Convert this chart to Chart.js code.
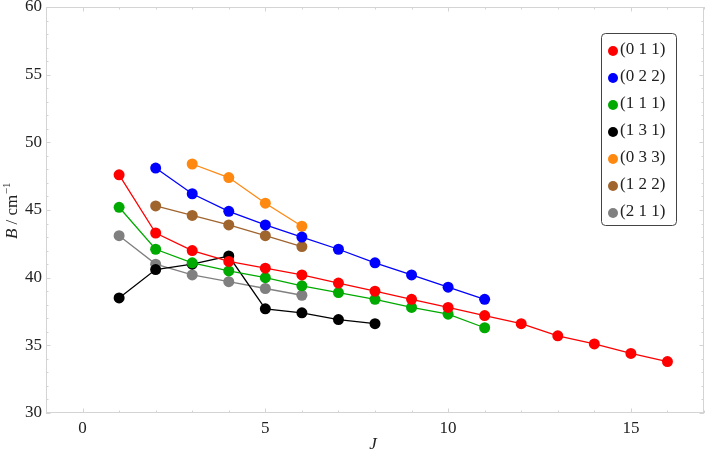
<!DOCTYPE html>
<html>
<head>
<meta charset="utf-8">
<script src="https://cdn.jsdelivr.net/npm/chart.js@4"></script>
<style>
  html, body { margin: 0; padding: 0; background: #fff; }
  #wrap { width: 706px; height: 458px; position: relative; }
</style>
</head>
<body>
<div id="wrap"><canvas id="bChart"></canvas></div>
<script>
// J values and B (cm^-1) per band
var j011 = [1, 2, 3, 4, 5, 6, 7, 8, 9, 10, 11, 12, 13, 14, 15, 16];
var b011 = [47.6, 43.3, 42.0, 41.2, 40.7, 40.2, 39.6, 39.0, 38.4, 37.8, 37.2, 36.6, 35.7, 35.1, 34.4, 33.8];

var j022 = [2, 3, 4, 5, 6, 7, 8, 9, 10, 11];
var b022 = [48.1, 46.2, 44.9, 43.9, 43.0, 42.1, 41.1, 40.2, 39.3, 38.4];

var j111 = [1, 2, 3, 4, 5, 6, 7, 8, 9, 10, 11];
var b111 = [45.2, 42.1, 41.1, 40.5, 40.0, 39.4, 38.9, 38.4, 37.8, 37.3, 36.3];

var j131 = [1, 2, 3, 4, 5, 6, 7, 8];
var b131 = [38.5, 40.6, 41.0, 41.6, 37.7, 37.4, 36.9, 36.6];

var j033 = [3, 4, 5, 6];
var b033 = [48.4, 47.4, 45.5, 43.8];

var j122 = [2, 3, 4, 5, 6];
var b122 = [45.3, 44.6, 43.9, 43.1, 42.3];

var j211 = [1, 2, 3, 4, 5, 6];
var b211 = [43.1, 41.0, 40.2, 39.7, 39.2, 38.7];

var xTicks = [0, 5, 10, 15];
var yTicks = [30, 35, 40, 45, 50, 55, 60];

var serif = '"Liberation Serif", "Times New Roman", serif';

function pts(xs, ys) {
    return xs.map(function (x, i) { return { x: x, y: ys[i] }; });
}

var bands = [
    { label: '(0 1 1)', color: '#ff0000', data: pts(j011, b011) },
    { label: '(0 2 2)', color: '#0000ff', data: pts(j022, b022) },
    { label: '(1 1 1)', color: '#00aa00', data: pts(j111, b111) },
    { label: '(1 3 1)', color: '#000000', data: pts(j131, b131) },
    { label: '(0 3 3)', color: '#ff8811', data: pts(j033, b033) },
    { label: '(1 2 2)', color: '#a0642d', data: pts(j122, b122) },
    { label: '(2 1 1)', color: '#808080', data: pts(j211, b211) }
];

var datasets = bands.map(function (b) {
    return {
        label: b.label,
        data: b.data,
        showLine: true,
        borderColor: b.color,
        backgroundColor: b.color,
        borderWidth: 1.3,
        pointRadius: 5.5,
        pointHoverRadius: 5.5,
        pointBorderWidth: 0
    };
});

// frame, inward ticks, axis titles and the boxed legend
var framePlugin = {
    id: 'frame',
    afterDraw: function (chart) {
        var ctx = chart.ctx;
        var a = chart.chartArea;
        var xs = chart.scales.x, ys = chart.scales.y;
        ctx.save();
        ctx.strokeStyle = '#d4d4d4';
        ctx.lineWidth = 1;
        ctx.strokeRect(a.left + 0.5, a.top + 0.5, a.right - a.left - 1, a.bottom - a.top - 1);

        ctx.beginPath();
        for (var v = -1; v <= 17; v++) {
            var px = Math.round(xs.getPixelForValue(v)) + 0.5;
            var len = (v % 5 === 0) ? 4.5 : 2.5;
            ctx.moveTo(px, a.bottom); ctx.lineTo(px, a.bottom - len);
            ctx.moveTo(px, a.top); ctx.lineTo(px, a.top + len);
        }
        for (var w = 30; w <= 60; w++) {
            var py = Math.round(ys.getPixelForValue(w)) + 0.5;
            var l2 = (w % 5 === 0) ? 4.5 : 2.5;
            ctx.moveTo(a.left, py); ctx.lineTo(a.left + l2, py);
            ctx.moveTo(a.right, py); ctx.lineTo(a.right - l2, py);
        }
        ctx.stroke();

        // axis titles
        ctx.fillStyle = '#222';
        ctx.textBaseline = 'alphabetic';
        ctx.font = 'italic 17px ' + serif;
        ctx.textAlign = 'center';
        ctx.fillText('J', (a.left + a.right) / 2 - 2, 449);

        ctx.save();
        ctx.translate(17, (a.top + a.bottom) / 2 + 1);
        ctx.rotate(-Math.PI / 2);
        ctx.textAlign = 'left';
        var t1 = 'B', t2 = ' / cm', t3 = '\u22121';
        ctx.font = 'italic 17px ' + serif;
        var w1 = ctx.measureText(t1).width;
        ctx.font = '17px ' + serif;
        var w2 = ctx.measureText(t2).width;
        ctx.font = '11px ' + serif;
        var w3 = ctx.measureText(t3).width;
        var x0 = -(w1 + w2 + w3) / 2;
        ctx.font = 'italic 17px ' + serif;
        ctx.fillText(t1, x0, 0);
        ctx.font = '17px ' + serif;
        ctx.fillText(t2, x0 + w1, 0);
        ctx.font = '11px ' + serif;
        ctx.fillText(t3, x0 + w1 + w2 + 0.5, -7);
        ctx.restore();

        // legend box
        var lx = 601, ly = 33, lw = 75, lh = 192;
        ctx.beginPath();
        ctx.roundRect(lx + 0.5, ly + 0.5, lw, lh, 4);
        ctx.fillStyle = '#fff';
        ctx.fill();
        ctx.strokeStyle = '#444';
        ctx.lineWidth = 1;
        ctx.stroke();
        ctx.font = '17px ' + serif;
        ctx.textAlign = 'left';
        ctx.textBaseline = 'middle';
        bands.forEach(function (b, i) {
            var cy = ly + 17 + i * 27;
            ctx.beginPath();
            ctx.arc(lx + 12, cy + 1, 5, 0, Math.PI * 2);
            ctx.fillStyle = b.color;
            ctx.fill();
            ctx.fillStyle = '#222';
            ctx.fillText(b.label, lx + 19, cy);
        });
        ctx.restore();
    }
};

var ctx = document.getElementById('bChart').getContext('2d');
var bChart = new Chart(ctx, {
    type: 'scatter',
    data: { datasets: datasets },
    options: {
        responsive: true,
        maintainAspectRatio: false,
        animation: false,
        layout: { autoPadding: false, padding: { top: 7, right: 2, left: 0, bottom: 0 } },
        plugins: {
            legend: { display: false },
            tooltip: { enabled: false }
        },
        scales: {
            x: {
                type: 'linear',
                min: -1,
                max: 17,
                afterBuildTicks: function (s) { s.ticks = xTicks.map(function (v) { return { value: v }; }); },
                afterFit: function (s) { s.height = 45; s.paddingLeft = 0; s.paddingRight = 0; },
                grid: { display: false, drawTicks: false, tickLength: 0 },
                border: { display: false },
                ticks: { color: '#222', font: { family: serif, size: 17 }, padding: 5, maxRotation: 0 }
            },
            y: {
                type: 'linear',
                min: 30,
                max: 60,
                afterBuildTicks: function (s) { s.ticks = yTicks.map(function (v) { return { value: v }; }); },
                afterFit: function (s) { s.width = 46; s.paddingTop = 0; s.paddingBottom = 0; },
                grid: { display: false, drawTicks: false, tickLength: 0 },
                border: { display: false },
                ticks: { color: '#222', font: { family: serif, size: 17 }, padding: 4 }
            }
        }
    },
    plugins: [framePlugin]
});
</script>
</body>
</html>
